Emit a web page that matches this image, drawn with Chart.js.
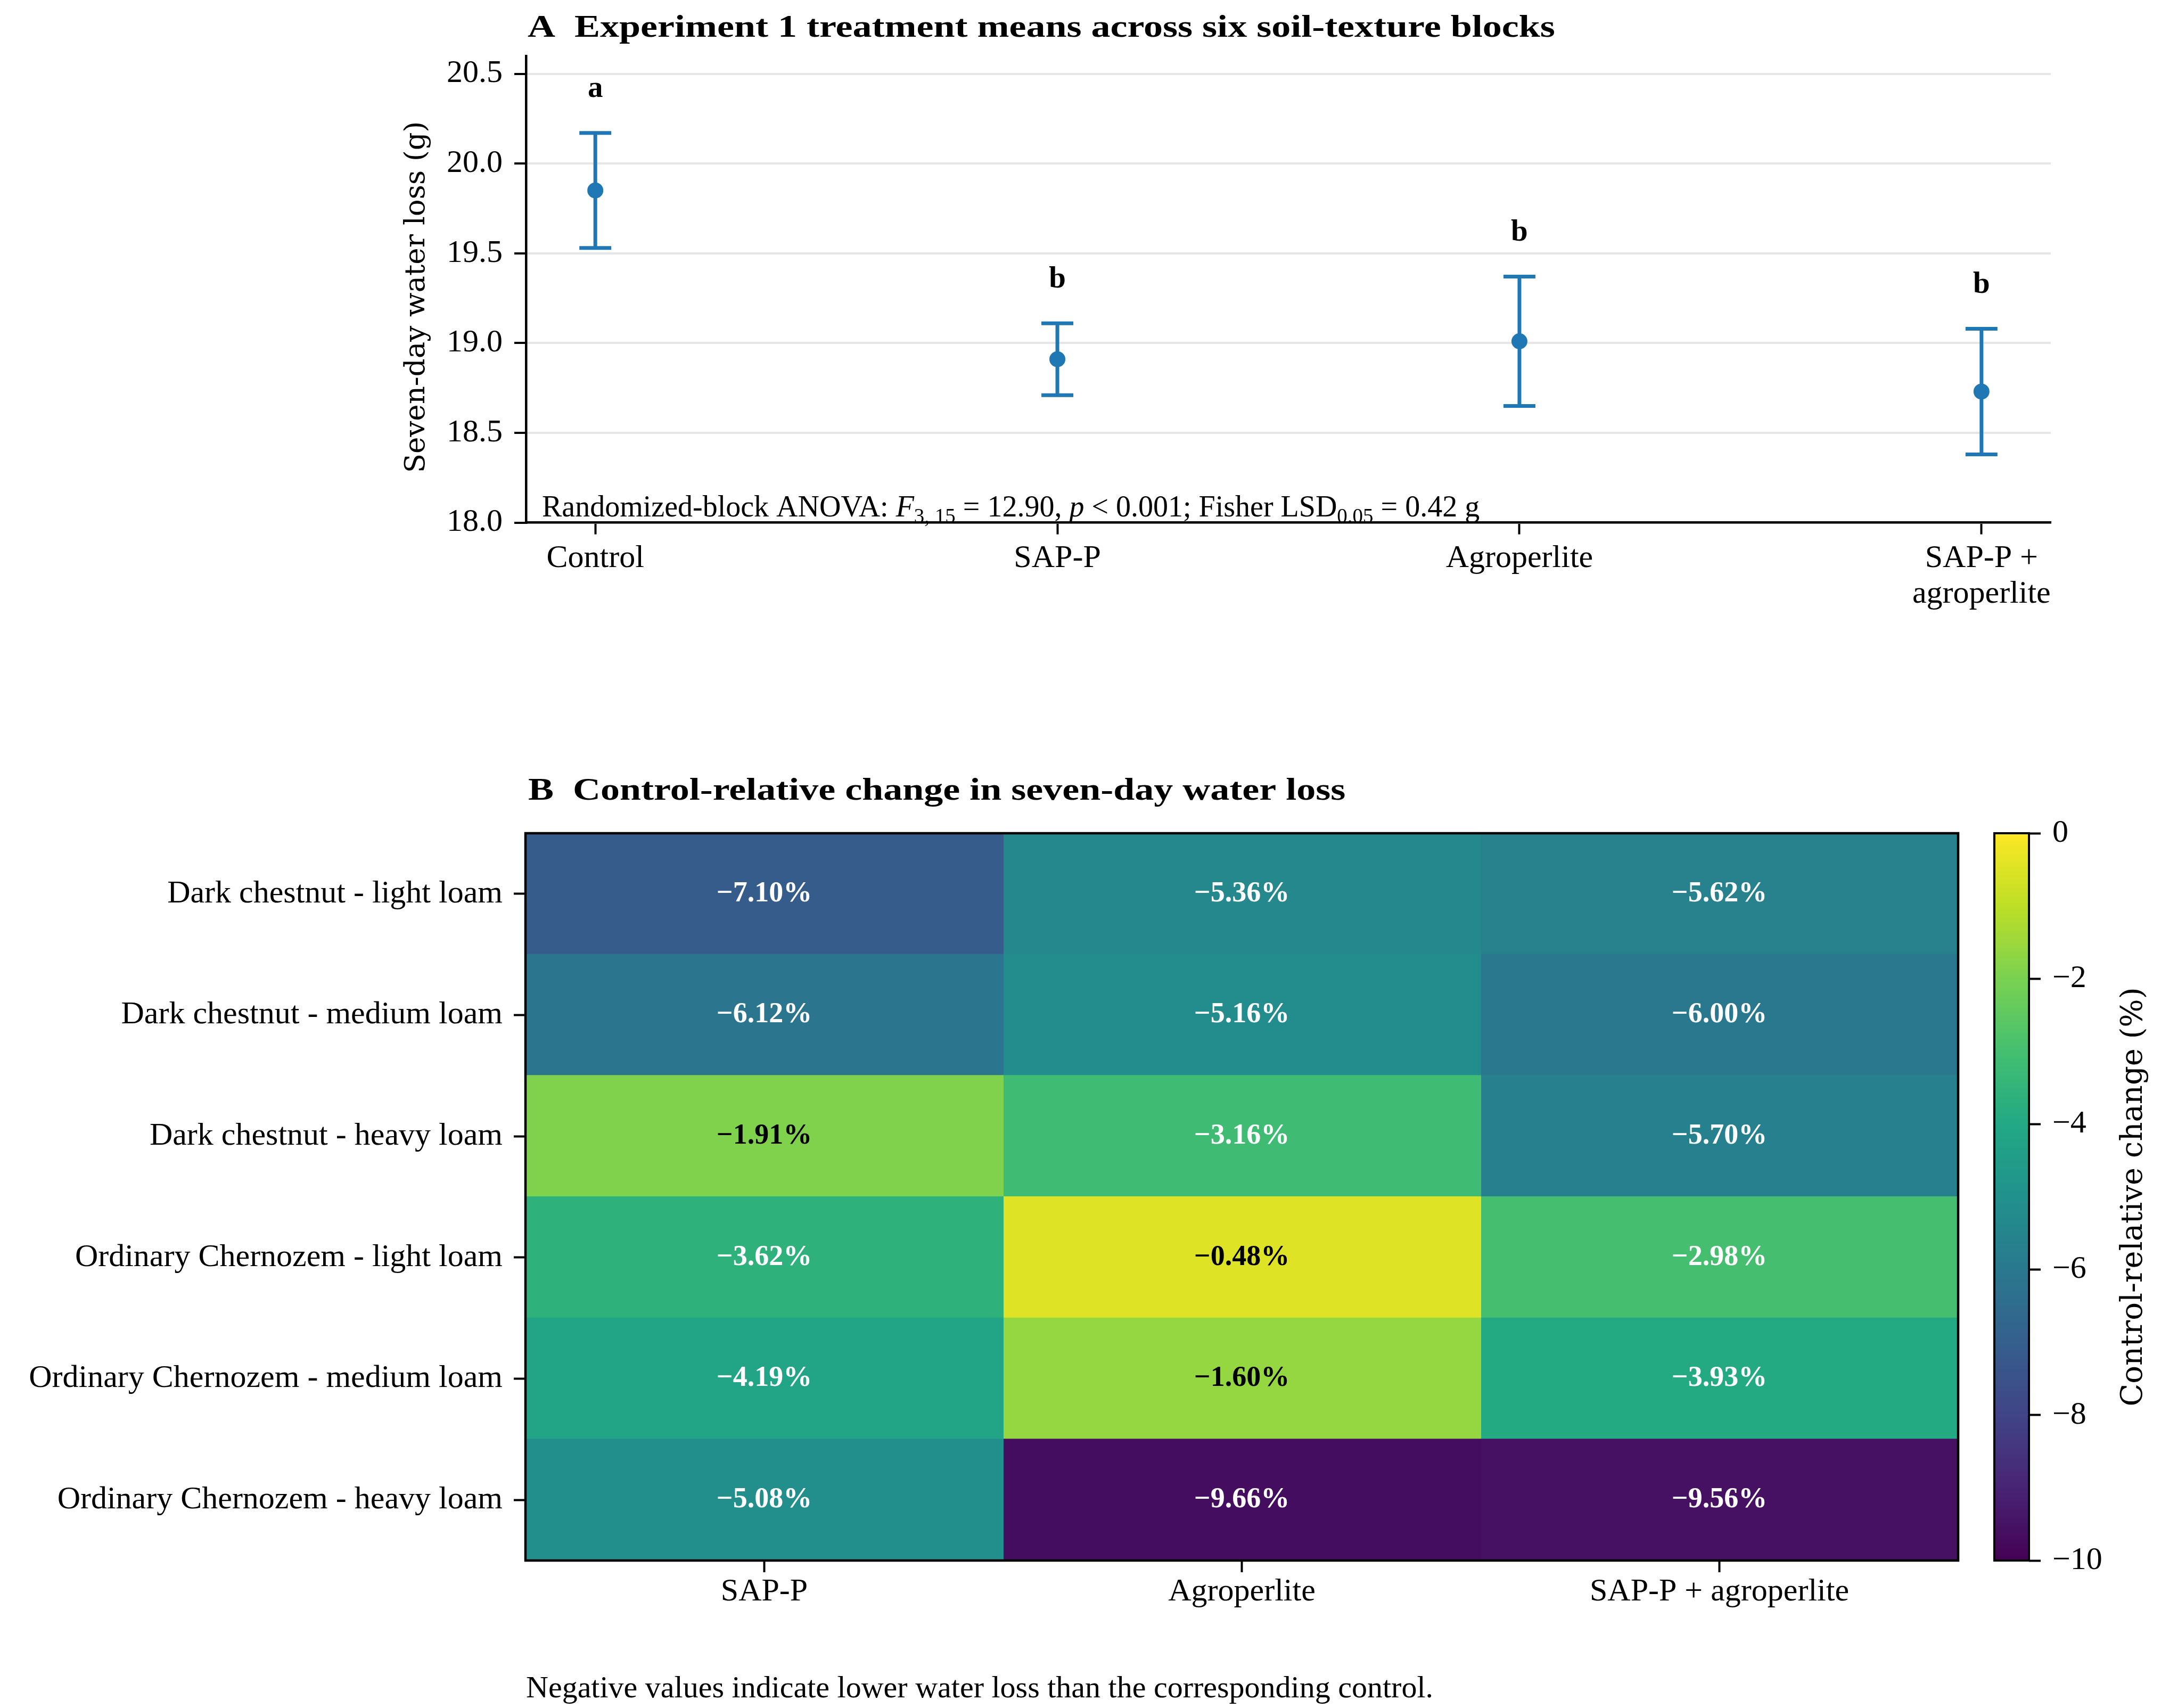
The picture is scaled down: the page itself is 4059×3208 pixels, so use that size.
<!DOCTYPE html>
<html><head><meta charset="utf-8">
<script src="https://cdn.jsdelivr.net/npm/chart.js@4.4.0/dist/chart.umd.min.js"></script>
<style>
html,body{margin:0;padding:0;background:#fff;}
body{width:4059px;height:3208px;position:relative;overflow:hidden;}
canvas{position:absolute;}
</style></head><body>
<canvas id="top" width="4059" height="1220" style="left:0;top:0;width:4059px;height:1220px"></canvas>
<canvas id="heat" width="3700" height="1908" style="left:0;top:1300px;width:3700px;height:1908px"></canvas>
<canvas id="cbar" width="359" height="1908" style="left:3700px;top:1300px;width:359px;height:1908px"></canvas>
<script>
// ---------- Panel A data ----------
const treatments = [['Control'], ['SAP-P'], ['Agroperlite'], ['SAP-P +', 'agroperlite']];
const means = [19.85, 18.91, 19.01, 18.73];
const errors = [0.32, 0.20, 0.36, 0.35];
const letters = ['a', 'b', 'b', 'b'];

// ---------- Panel B data ----------
const soilBlocks = [
  'Dark chestnut - light loam',
  'Dark chestnut - medium loam',
  'Dark chestnut - heavy loam',
  'Ordinary Chernozem - light loam',
  'Ordinary Chernozem - medium loam',
  'Ordinary Chernozem - heavy loam'
];
const heatColumns = ['SAP-P', 'Agroperlite', 'SAP-P + agroperlite'];
const sapP = [-7.10, -6.12, -1.91, -3.62, -4.19, -5.08];
const agroperlite = [-5.36, -5.16, -3.16, -0.48, -1.60, -9.66];
const sapPAgro = [-5.62, -6.00, -5.70, -2.98, -3.93, -9.56];
const colorMin = -10, colorMax = 0;

// ---------- styling ----------
const BLUE = '#1f77b4';
const SERIF = '"Liberation Serif", serif';
const WIDESERIF = '"DejaVu Serif", serif';
const TICK = 60;
const VIRIDIS = ['#440154','#482475','#414487','#355f8d','#2a788e','#21918c','#22a884','#44bf70','#7ad151','#bddf26','#fde725'];
function hex2rgb(h){return [parseInt(h.slice(1,3),16),parseInt(h.slice(3,5),16),parseInt(h.slice(5,7),16)];}
function viridis(t){
  t = Math.max(0, Math.min(1, t));
  const p = t * (VIRIDIS.length - 1);
  const i = Math.min(Math.floor(p), VIRIDIS.length - 2);
  const f = p - i;
  const a = hex2rgb(VIRIDIS[i]), b = hex2rgb(VIRIDIS[i+1]);
  const c = a.map((v,k)=>Math.round(v + (b[k]-v)*f));
  return `rgb(${c[0]},${c[1]},${c[2]})`;
}
const norm = v => (v - colorMin) / (colorMax - colorMin);
const minus = v => (v < 0 ? '\u2212' : '') + Math.abs(v).toFixed(2) + '%';

function drawRich(ctx, x, y, parts){
  parts.forEach(p => {
    ctx.font = p.font;
    ctx.fillText(p.t, x, y + (p.dy || 0));
    x += ctx.measureText(p.t).width;
  });
}
function drawTitle(ctx, text, x, y){
  ctx.save();
  ctx.translate(x, y);
  ctx.scale(1.2, 1);
  ctx.font = `bold 60px ${SERIF}`;
  ctx.fillStyle = '#000'; ctx.textAlign = 'left'; ctx.textBaseline = 'alphabetic';
  ctx.fillText(text, 0, 0);
  ctx.restore();
}

// ---------- Panel A ----------
const topPlugin = {
  id: 'topDecor',
  beforeDatasetsDraw(chart){
    const {ctx, scales:{x, y}} = chart;
    ctx.save();
    ctx.strokeStyle = BLUE; ctx.lineWidth = 7;
    means.forEach((m, i) => {
      const px = x.getPixelForValue(i);
      const yl = y.getPixelForValue(m - errors[i]);
      const yu = y.getPixelForValue(m + errors[i]);
      ctx.beginPath();
      ctx.moveTo(px, yl); ctx.lineTo(px, yu);
      ctx.moveTo(px - 30, yl); ctx.lineTo(px + 30, yl);
      ctx.moveTo(px - 30, yu); ctx.lineTo(px + 30, yu);
      ctx.stroke();
    });
    ctx.restore();
  },
  afterDraw(chart){
    const {ctx, chartArea, scales:{x, y}} = chart;
    ctx.save();
    ctx.fillStyle = '#000';
    // significance letters
    ctx.font = `bold 57px ${SERIF}`;
    ctx.textAlign = 'center'; ctx.textBaseline = 'alphabetic';
    means.forEach((m, i) => {
      ctx.fillText(letters[i], x.getPixelForValue(i), y.getPixelForValue(m + errors[i] + 0.2));
    });
    ctx.textAlign = 'left';
    // ANOVA note
    const n = `56px ${SERIF}`, it = `italic 56px ${SERIF}`, sm = `39px ${SERIF}`;
    drawRich(ctx, chartArea.left + 30, chartArea.bottom - 12, [
      {t:'Randomized-block ANOVA: ', font:n},
      {t:'F', font:it},
      {t:'3, 15', font:sm, dy:12},
      {t:' = 12.90, ', font:n},
      {t:'p', font:it},
      {t:' < 0.001; Fisher LSD', font:n},
      {t:'0.05', font:sm, dy:12},
      {t:' = 0.42 g', font:n}
    ]);
    // y label
    ctx.translate(783, 558);
    ctx.rotate(-Math.PI/2);
    ctx.textAlign = 'center'; ctx.textBaseline = 'middle';
    ctx.font = `53px ${WIDESERIF}`;
    ctx.fillText('Seven-day water loss (g)', 0, 0);
    ctx.restore();
    drawTitle(ctx, 'A  Experiment 1 treatment means across six soil-texture blocks', chartArea.left + 3, 69);
  }
};

new Chart(document.getElementById('top'), {
  type: 'scatter',
  data: { datasets: [{
    data: means.map((m, i) => ({x: i, y: m})),
    pointRadius: 15, pointHoverRadius: 15,
    backgroundColor: BLUE, borderWidth: 0
  }]},
  options: {
    responsive: false, animation: false, devicePixelRatio: 1,
    layout: { padding: { left: 749, top: 104.8, right: 207, bottom: 0 } },
    plugins: { legend: {display: false}, tooltip: {enabled: false} },
    scales: {
      x: {
        type: 'linear', min: -0.15, max: 3.15,
        afterBuildTicks: s => { s.ticks = treatments.map((_, i) => ({value: i})); },
        ticks: { callback: (v, i) => treatments[i], font: {family: SERIF, size: TICK, lineHeight: 1.12},
                 color: '#000', padding: 12, autoSkip: false, maxRotation: 0 },
        grid: { drawOnChartArea: false, drawTicks: true, tickLength: 22, tickColor: '#000', tickWidth: 4 },
        border: { display: true, color: '#000', width: 4.5 },
        afterFit: s => { s.height = 1220 - 981.6; }
      },
      y: {
        min: 18, max: 20.6,
        ticks: { stepSize: 0.5, includeBounds: false, callback: v => v.toFixed(1),
                 font: {family: SERIF, size: TICK}, color: '#000', padding: 22 },
        grid: { color: '#e6e6e6', lineWidth: 4, tickColor: '#000', tickLength: 22, tickWidth: 4 },
        border: { display: true, color: '#000', width: 4.5 },
        afterFit: s => { s.width = 988 - 749; }
      }
    }
  },
  plugins: [topPlugin]
});

// ---------- Panel B heatmap ----------
const columnsData = [sapP, agroperlite, sapPAgro];
const heatPlugin = {
  id: 'heatDecor',
  afterDatasetsDraw(chart){
    const {ctx, chartArea, scales:{x, y}} = chart;
    ctx.save();
    ctx.font = `bold 54px ${SERIF}`;
    ctx.textAlign = 'center'; ctx.textBaseline = 'middle';
    columnsData.forEach((col, j) => {
      col.forEach((v, i) => {
        ctx.fillStyle = norm(v) > 0.75 ? '#000' : '#fff';
        ctx.fillText(minus(v), x.getPixelForValue(j + 0.5), y.getPixelForValue(i));
      });
    });
    ctx.strokeStyle = '#000'; ctx.lineWidth = 4.5;
    ctx.strokeRect(chartArea.left, chartArea.top, chartArea.right - chartArea.left, chartArea.bottom - chartArea.top);
    ctx.restore();
  },
  afterDraw(chart){
    const {ctx, chartArea} = chart;
    drawTitle(ctx, 'B  Control-relative change in seven-day water loss', chartArea.left + 5, 202);
    ctx.save();
    ctx.fillStyle = '#000'; ctx.textAlign = 'left'; ctx.textBaseline = 'alphabetic';
    ctx.font = `58px ${SERIF}`;
    ctx.fillText('Negative values indicate lower water loss than the corresponding control.', chartArea.left + 1, 1888);
    ctx.restore();
  }
};

new Chart(document.getElementById('heat'), {
  type: 'bar',
  data: {
    labels: soilBlocks,
    datasets: columnsData.map((col, j) => ({
      label: heatColumns[j],
      data: col.map(() => 1),
      backgroundColor: col.map(v => viridis(norm(v))),
      borderWidth: 0, inflateAmount: 1,
      barPercentage: 1, categoryPercentage: 1
    }))
  },
  options: {
    indexAxis: 'y',
    responsive: false, animation: false, devicePixelRatio: 1,
    layout: { padding: { left: 0, top: 265, right: 22, bottom: 0 } },
    plugins: { legend: {display: false}, tooltip: {enabled: false} },
    scales: {
      x: {
        type: 'linear', stacked: true, min: 0, max: heatColumns.length,
        afterBuildTicks: s => { s.ticks = heatColumns.map((_, j) => ({value: j + 0.5})); },
        ticks: { callback: (v, i) => heatColumns[i], font: {family: SERIF, size: TICK, lineHeight: 1.12},
                 color: '#000', padding: 4, autoSkip: false, maxRotation: 0 },
        grid: { drawOnChartArea: false, drawTicks: true, tickLength: 22, tickColor: '#000', tickWidth: 4 },
        border: { display: false },
        afterFit: s => { s.height = 1908 - 1631; }
      },
      y: {
        stacked: true,
        ticks: { font: {family: SERIF, size: TICK}, color: '#000', padding: 21, autoSkip: false },
        grid: { offset: false, drawOnChartArea: false, drawTicks: true, tickLength: 22, tickColor: '#000', tickWidth: 4 },
        border: { display: false },
        afterFit: s => { s.width = 987; }
      }
    }
  },
  plugins: [heatPlugin]
});

// ---------- Colorbar ----------
const cbarPlugin = {
  id: 'cbarDecor',
  afterDraw(chart){
    const {ctx, chartArea} = chart;
    ctx.save();
    ctx.strokeStyle = '#000'; ctx.lineWidth = 4;
    ctx.strokeRect(chartArea.left, chartArea.top, chartArea.right - chartArea.left, chartArea.bottom - chartArea.top);
    ctx.translate(308, (chartArea.top + chartArea.bottom) / 2);
    ctx.rotate(-Math.PI / 2);
    ctx.fillStyle = '#000'; ctx.textAlign = 'center'; ctx.textBaseline = 'middle';
    ctx.font = `56px ${WIDESERIF}`;
    ctx.fillText('Control-relative change (%)', 0, 0);
    ctx.restore();
  }
};
new Chart(document.getElementById('cbar'), {
  type: 'bar',
  data: { labels: [''], datasets: [{
    data: [[colorMin, colorMax]],
    backgroundColor: ctx => {
      const ca = ctx.chart.chartArea;
      if (!ca) return VIRIDIS[5];
      const g = ctx.chart.ctx.createLinearGradient(0, ca.bottom, 0, ca.top);
      VIRIDIS.forEach((c, k) => g.addColorStop(k / (VIRIDIS.length - 1), c));
      return g;
    },
    borderWidth: 0, barPercentage: 1, categoryPercentage: 1
  }]},
  options: {
    responsive: false, animation: false, devicePixelRatio: 1,
    layout: { padding: { left: 46, top: 265, right: 21, bottom: 1908 - 1631 } },
    plugins: { legend: {display: false}, tooltip: {enabled: false} },
    scales: {
      x: { display: false },
      y: {
        position: 'right', min: colorMin, max: colorMax,
        ticks: { stepSize: 2, callback: v => (v < 0 ? '\u2212' : '') + Math.abs(v),
                 font: {family: SERIF, size: TICK}, color: '#000', padding: 22 },
        grid: { drawOnChartArea: false, drawTicks: true, tickLength: 22, tickColor: '#000', tickWidth: 4 },
        border: { display: false },
        afterFit: s => { s.width = 359 - 21 - 111; }
      }
    }
  },
  plugins: [cbarPlugin]
});
</script>
</body></html>
